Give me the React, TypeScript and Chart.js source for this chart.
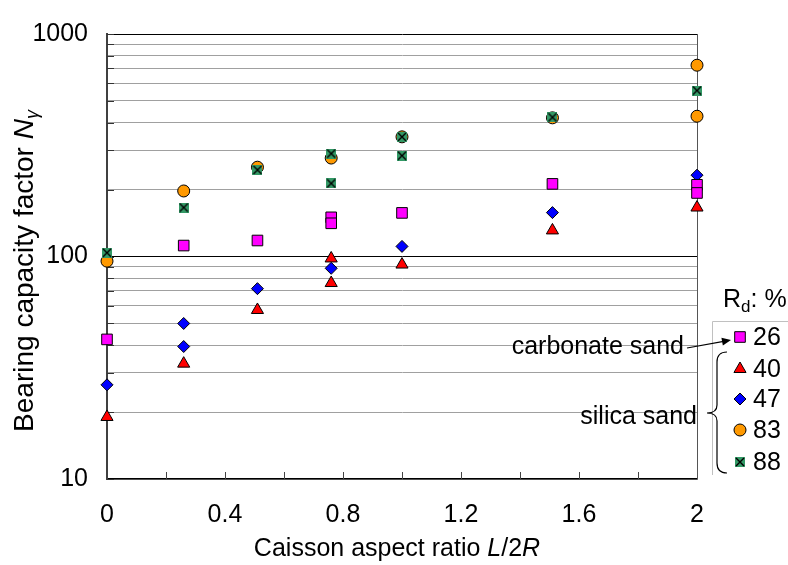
import React, { useEffect, useRef } from 'react';
import { Chart, registerables } from 'chart.js';
Chart.register(...registerables);

const FONT = '"Liberation Sans", Arial, Helvetica, sans-serif';

// ---- data ----
const seriesLabels = ['26', '40', '47', '83', '88'];
const xRd26 = [0, 0.26, 0.51, 0.76, 0.76, 1.0, 1.51, 2.0, 2.0];
const yRd26 = [42.4, 112, 118, 150, 141, 157, 212, 210, 193];
const xRd40 = [0, 0.26, 0.51, 0.76, 0.76, 1.0, 1.51, 2.0];
const yRd40 = [19, 33, 57.5, 98, 76, 92, 131, 166];
const xRd47 = [0, 0.26, 0.26, 0.51, 0.76, 1.0, 1.51, 2.0];
const yRd47 = [26.5, 50, 39.4, 71.7, 88.5, 111, 157.5, 232];
const xRd83 = [0, 0.26, 0.51, 0.76, 1.0, 1.51, 2.0, 2.0];
const yRd83 = [95.3, 197, 252, 277, 345, 420, 724, 427];
const xRd88 = [0, 0.26, 0.51, 0.76, 0.76, 1.0, 1.0, 1.51, 2.0];
const yRd88 = [104, 166, 245, 290, 213, 345, 284, 422, 557];

const yTickValues = [10, 20, 30, 40, 50, 60, 70, 80, 90, 100, 200, 300, 400, 500, 600, 700, 800, 900, 1000];
const yLabelValues = [10, 100, 1000];
const xTickValues = [0, 0.2, 0.4, 0.6, 0.8, 1.0, 1.2, 1.4, 1.6, 1.8, 2.0];
const xLabelValues = [0, 0.4, 0.8, 1.2, 1.6, 2];
const xLabelTexts = ['0', '0.4', '0.8', '1.2', '1.6', '2'];

const pts = (xs: number[], ys: number[]) => xs.map((x, i) => ({ x, y: ys[i] }));

function makeCrossSquare(): HTMLCanvasElement {
  const c = document.createElement('canvas');
  c.width = 10;
  c.height = 10;
  const g = c.getContext('2d')!;
  g.fillStyle = '#339966';
  g.fillRect(0, 0, 10, 10);
  g.strokeStyle = '#000';
  g.lineWidth = 1.4;
  g.beginPath();
  g.moveTo(1, 1);
  g.lineTo(9, 9);
  g.moveTo(9, 1);
  g.lineTo(1, 9);
  g.stroke();
  return c;
}

function drawMarker(ctx: CanvasRenderingContext2D, kind: string, x: number, y: number, fill: string, img?: HTMLCanvasElement) {
  ctx.save();
  ctx.fillStyle = fill;
  ctx.strokeStyle = '#000';
  ctx.lineWidth = 1;
  ctx.beginPath();
  if (kind === 'rect') {
    ctx.rect(x - 5.3, y - 5.3, 10.6, 10.6);
  } else if (kind === 'triangle') {
    const r = 7;
    ctx.moveTo(x, y - r);
    ctx.lineTo(x + r * 0.866, y + r * 0.5);
    ctx.lineTo(x - r * 0.866, y + r * 0.5);
    ctx.closePath();
  } else if (kind === 'rectRot') {
    const r = 6;
    ctx.moveTo(x, y - r);
    ctx.lineTo(x + r, y);
    ctx.lineTo(x, y + r);
    ctx.lineTo(x - r, y);
    ctx.closePath();
  } else if (kind === 'circle') {
    ctx.arc(x, y, 6, 0, Math.PI * 2);
  }
  if (kind === 'image' && img) {
    ctx.drawImage(img, x - img.width / 2, y - img.height / 2);
  } else {
    ctx.fill();
    ctx.stroke();
  }
  ctx.restore();
}

function drawSegments(ctx: CanvasRenderingContext2D, segs: { t: string; f: string; dy?: number }[], cx: number, baseY: number) {
  let total = 0;
  for (const s of segs) {
    ctx.font = s.f;
    total += ctx.measureText(s.t).width;
  }
  let x = cx - total / 2;
  ctx.textAlign = 'left';
  ctx.textBaseline = 'alphabetic';
  for (const s of segs) {
    ctx.font = s.f;
    ctx.fillText(s.t, x, baseY + (s.dy || 0));
    x += ctx.measureText(s.t).width;
  }
}

export default function App() {
  const ref = useRef<HTMLCanvasElement>(null);

  useEffect(() => {
    document.body.style.margin = '0';
    const canvas = ref.current!;
    const crossImg = makeCrossSquare();

    const styles = [
      { kind: 'rect', fill: '#FF00FF' },
      { kind: 'triangle', fill: '#FF0000' },
      { kind: 'rectRot', fill: '#0000FF' },
      { kind: 'circle', fill: '#FF9900' },
      { kind: 'image', fill: '#339966' },
    ];

    const decor = {
      id: 'decor',
      beforeDatasetsDraw(chart: any) {
        const { ctx, chartArea } = chart;
        const xs = chart.scales.x;
        const ys = chart.scales.y;
        ctx.save();
        // right border
        ctx.strokeStyle = '#555';
        ctx.lineWidth = 1;
        ctx.beginPath();
        ctx.moveTo(Math.round(chartArea.right) + 0.5, chartArea.top);
        ctx.lineTo(Math.round(chartArea.right) + 0.5, chartArea.bottom);
        ctx.stroke();
        // x inside ticks
        ctx.strokeStyle = '#444';
        for (const v of xTickValues) {
          if (v === 0 || v === 2) continue;
          const px = Math.round(xs.getPixelForValue(v)) + 0.5;
          ctx.beginPath();
          ctx.moveTo(px, chartArea.bottom);
          ctx.lineTo(px, chartArea.bottom - 7);
          ctx.stroke();
        }
        // y inside ticks
        ctx.strokeStyle = '#333';
        for (const v of yTickValues) {
          const py = Math.round(ys.getPixelForValue(v)) + 0.5;
          ctx.beginPath();
          ctx.moveTo(chartArea.left, py);
          ctx.lineTo(chartArea.left + 7, py);
          ctx.stroke();
        }
        ctx.restore();
      },
      afterDraw(chart: any) {
        const { ctx } = chart;
        ctx.save();
        ctx.fillStyle = '#000';
        // x title
        drawSegments(ctx, [
          { t: 'Caisson aspect ratio ', f: `25px ${FONT}` },
          { t: 'L', f: `italic 25px ${FONT}` },
          { t: '/2', f: `25px ${FONT}` },
          { t: 'R', f: `italic 25px ${FONT}` },
        ], 397, 556);
        // y title
        ctx.save();
        ctx.translate(33, 271);
        ctx.rotate(-Math.PI / 2);
        drawSegments(ctx, [
          { t: 'Bearing capacity factor ', f: `28px ${FONT}` },
          { t: 'N', f: `italic 28px ${FONT}` },
          { t: 'γ', f: `italic 18px ${FONT}`, dy: 5 },
        ], 0, 0);
        ctx.restore();

        // legend header
        ctx.textBaseline = 'alphabetic';
        ctx.textAlign = 'left';
        ctx.font = `25px ${FONT}`;
        ctx.fillText('R', 723, 307);
        let wx = 723 + ctx.measureText('R').width;
        ctx.font = `17px ${FONT}`;
        ctx.fillText('d', wx, 312);
        wx += ctx.measureText('d').width;
        ctx.font = `25px ${FONT}`;
        ctx.fillText(': %', wx, 307);

        // legend box
        ctx.strokeStyle = '#c0c0c0';
        ctx.lineWidth = 1;
        ctx.beginPath();
        ctx.moveTo(712.5, 475);
        ctx.lineTo(712.5, 321.5);
        ctx.lineTo(788, 321.5);
        ctx.stroke();

        const ly = [337, 369, 399, 430, 462];
        seriesLabels.forEach((lab, i) => {
          drawMarker(ctx, styles[i].kind, 740, ly[i], styles[i].fill, crossImg);
          ctx.fillStyle = '#000';
          ctx.font = `25px ${FONT}`;
          ctx.textAlign = 'left';
          ctx.textBaseline = 'middle';
          ctx.fillText(lab, 753, ly[i] + 1);
        });

        // annotations
        ctx.fillStyle = '#000';
        ctx.font = `25px ${FONT}`;
        ctx.textAlign = 'right';
        ctx.textBaseline = 'middle';
        ctx.fillText('carbonate sand', 684, 347);
        ctx.fillText('silica sand', 697, 417);

        // arrow
        ctx.strokeStyle = '#000';
        ctx.lineWidth = 1.2;
        const ax0 = 687, ay0 = 348, ax1 = 731, ay1 = 340;
        ctx.beginPath();
        ctx.moveTo(ax0, ay0);
        ctx.lineTo(ax1 - 6, ay1 + 1.1);
        ctx.stroke();
        const ang = Math.atan2(ay1 - ay0, ax1 - ax0);
        ctx.beginPath();
        ctx.moveTo(ax1, ay1);
        ctx.lineTo(ax1 - 9 * Math.cos(ang) + 4 * Math.sin(ang), ay1 - 9 * Math.sin(ang) - 4 * Math.cos(ang));
        ctx.lineTo(ax1 - 9 * Math.cos(ang) - 4 * Math.sin(ang), ay1 - 9 * Math.sin(ang) + 4 * Math.cos(ang));
        ctx.closePath();
        ctx.fill();

        // brace
        ctx.lineWidth = 1.2;
        ctx.beginPath();
        ctx.moveTo(727, 352);
        ctx.quadraticCurveTo(717, 352, 717, 362);
        ctx.lineTo(717, 405);
        ctx.quadraticCurveTo(717, 413, 707, 413);
        ctx.quadraticCurveTo(717, 413, 717, 421);
        ctx.lineTo(717, 463);
        ctx.quadraticCurveTo(717, 473, 727, 473);
        ctx.stroke();
        ctx.restore();
      },
    };

    const chart = new Chart(canvas, {
      type: 'scatter',
      data: {
        datasets: [
          { label: seriesLabels[4], data: pts(xRd88, yRd88), pointStyle: crossImg as any, order: 0, clip: false as any },
          { label: seriesLabels[3], data: pts(xRd83, yRd83), pointStyle: 'circle', pointRadius: 6, backgroundColor: '#FF9900', borderColor: '#000', borderWidth: 1, order: 1, clip: false as any },
          { label: seriesLabels[0], data: pts(xRd26, yRd26), pointStyle: 'rect', pointRadius: 7.5, backgroundColor: '#FF00FF', borderColor: '#000', borderWidth: 1, order: 2, clip: false as any },
          { label: seriesLabels[2], data: pts(xRd47, yRd47), pointStyle: 'rectRot', pointRadius: 6, backgroundColor: '#0000FF', borderColor: '#000', borderWidth: 1, order: 3, clip: false as any },
          { label: seriesLabels[1], data: pts(xRd40, yRd40), pointStyle: 'triangle', pointRadius: 7, backgroundColor: '#FF0000', borderColor: '#000', borderWidth: 1, order: 4, clip: false as any },
        ],
      },
      options: {
        animation: false,
        responsive: false,
        devicePixelRatio: 1,
        layout: { autoPadding: false, padding: { left: 0, right: 91, top: 23, bottom: 0 } },
        plugins: { legend: { display: false }, tooltip: { enabled: false }, title: { display: false } },
        scales: {
          x: {
            type: 'linear',
            min: 0,
            max: 2,
            afterBuildTicks: (s: any) => { s.ticks = xTickValues.map((v) => ({ value: v })); },
            afterFit: (s: any) => { s.height = 86; },
            ticks: {
              autoSkip: false,
              maxRotation: 0,
              padding: 21,
              color: '#000',
              font: { family: FONT, size: 25 },
              callback: (v: any) => {
                const i = xLabelValues.findIndex((l) => Math.abs(l - Number(v)) < 1e-6);
                return i >= 0 ? xLabelTexts[i] : '';
              },
            },
            grid: { display: true, drawOnChartArea: false, drawTicks: false },
            border: { display: true, color: '#000', width: 1.5 },
          },
          y: {
            type: 'logarithmic',
            min: 10,
            max: 1000,
            afterBuildTicks: (s: any) => { s.ticks = yTickValues.map((v) => ({ value: v })); },
            afterFit: (s: any) => { s.width = 107; },
            ticks: {
              autoSkip: false,
              padding: 19,
              color: '#000',
              font: { family: FONT, size: 25 },
              callback: (v: any) => (yLabelValues.includes(Number(v)) ? String(v) : ''),
            },
            grid: {
              display: true,
              drawTicks: false,
              lineWidth: 1,
              color: (c: any) => (c.tick && (c.tick.value === 100 || c.tick.value === 1000) ? '#000' : '#a0a0a0'),
            },
            border: { display: true, color: '#404040', width: 2 },
          },
        },
      },
      plugins: [decor],
    });

    return () => chart.destroy();
  }, []);

  return (
    <div style={{ width: 788, height: 565, position: 'relative' }}>
      <canvas ref={ref} width={788} height={565} style={{ display: 'block' }} />
    </div>
  );
}
